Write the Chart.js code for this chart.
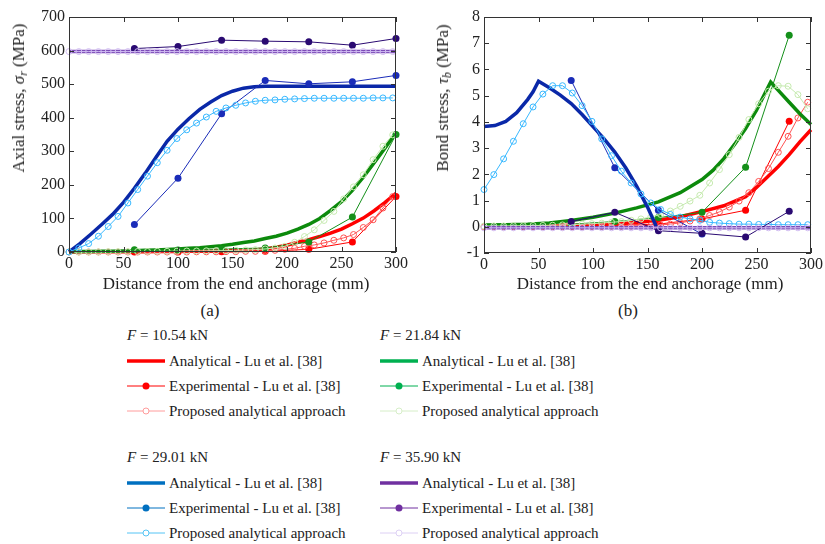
<!DOCTYPE html>
<html>
<head>
<meta charset="utf-8">
<script src="https://cdn.jsdelivr.net/npm/chart.js@4.4.1/dist/chart.umd.min.js"></script>
<style>
html,body{margin:0;padding:0;background:#fff;}
body{width:825px;height:544px;position:relative;overflow:hidden;font-family:'Liberation Serif','Times New Roman',serif;color:#222;}
.wrap{position:absolute;}
.ytitle{position:absolute;white-space:nowrap;font-size:17px;transform:translate(-50%,-50%) rotate(-90deg);}
.xtitle{position:absolute;white-space:nowrap;font-size:17px;transform:translate(-50%,-50%);}
.lg{position:absolute;white-space:nowrap;font-size:15px;line-height:18px;display:flex;align-items:center;}
.lg svg{margin-right:4px;}
sub{font-size:70%;vertical-align:-3px;}
</style>
</head>
<body>
<div class="wrap" style="left:0;top:0;width:410px;height:275px"><canvas id="axial" width="410" height="275"></canvas></div>
<div class="wrap" style="left:415px;top:0;width:410px;height:276px"><canvas id="bond" width="410" height="276"></canvas></div>

<div class="ytitle" style="left:20px;top:98px">Axial stress, <i>σ</i><sub><i>r</i></sub> (MPa)</div>
<div class="ytitle" style="left:444px;top:98px">Bond stress, <i>τ</i><sub><i>b</i></sub> (MPa)</div>
<div class="xtitle" style="left:236px;top:284px">Distance from the end anchorage (mm)</div>
<div class="xtitle" style="left:650px;top:284px">Distance from the end anchorage (mm)</div>
<div class="xtitle" style="left:210px;top:311px">(a)</div>
<div class="xtitle" style="left:628px;top:311px">(b)</div>
<div id="legend"></div>

<script>
// load cases and series names
const forces = ['10.54', '21.84', '29.01', '35.90'];
const seriesNames = ['Analytical - Lu et al. [38]', 'Experimental - Lu et al. [38]', 'Proposed analytical approach'];

// ---- (a) axial stress (MPa) ----
const anaX_a = [0,10,20,30,40,50,60,70,80,90,100,110,120,130,140,150,160,170,180,190,200,210,220,230,240,250,260,270,280,290,300];
const anaRed_a = [0.3,0.4,0.5,0.6,0.7,0.8,1,1.1,1.3,1.5,1.7,2,2.3,2.6,3,3.5,4.5,6,9,14,20,29,37,46,56,68,84,101,123,148,175];
const anaGreen_a = [1,1.2,1.5,2,2.5,3,4,5,6,7.5,9,11,13,16,19,23,28,33,40,47,56,68,82,100,124,150,184,223,266,310,355];
const anaBlue_a = [0,25,53,82,112,148,190,235,283,330,366,397,425,447,466,479,488,492,494,494,494,494,494,494,494,494,494,494,494,494,494];
const anaPurpleX_a = [0,300];
const anaPurple_a = [597,597];

const expX_a = [60,100,140,180,220,260,300];
const expRed_a = [0,0,1,2,8,30,165];
const expGreen_a = [7,6,9,12,30,104,350];
const expBlue_a = [82,220,412,511,501,507,526];
const expPurple_a = [606,612,631,628,626,616,636];

const propX = [0,9,18,27,36,45,54,63,72,81,90,99,108,117,126,135,144,153,162,171,180,189,198,207,216,225,234,243,252,261,270,279,288,297];
const propRed_a = [0,0,0,0,0,0,0,0,0,0,0,0,0,0.5,0.5,0.5,1,1,2,2,3,5,8,11,17,21,27,35,42,52,73,96,131,165];
const propGreen_a = [0,0,0.5,0.5,1,1,1,1.5,1.5,2,2,2.5,3,3,3.5,4,4,5,6,7,9,12,17,29,46,66,94,121,158,194,230,275,315,349];
const propBlue_a = [0,12,25,47,76,106,146,186,226,266,303,338,364,384,402,419,429,437,444,449,452,453,455,456,457,458,458,458,458,458,458,459,459,459];
const propPurple_a = [597,597,597,597,597,597,597,597,597,597,597,597,597,597,597,597,597,597,597,597,597,597,597,597,597,597,597,597,597,597,597,597,597,597];

// ---- (b) bond stress (MPa) ----
const anaRedX_b = [0,20,40,60,80,100,120,140,160,180,200,220,240,250,260,270,280,290,300];
const anaRed_b = [0.01,0.02,0.03,0.04,0.06,0.08,0.11,0.16,0.25,0.38,0.58,0.8,1.15,1.5,1.9,2.3,2.75,3.25,3.7];
const anaGreenX_b = [0,20,40,60,80,100,120,140,160,180,200,210,220,230,240,250,263,270,280,290,300];
const anaGreen_b = [0.07,0.08,0.1,0.14,0.24,0.36,0.52,0.72,0.95,1.3,1.8,2.15,2.6,3.15,3.75,4.45,5.52,5.2,4.75,4.3,3.9];
const anaBlueX_b = [0,10,20,30,40,45,50,60,70,80,90,100,110,120,130,140,150,158];
const anaBlue_b = [3.82,3.86,4.02,4.35,4.85,5.15,5.55,5.3,5.02,4.7,4.28,3.82,3.36,2.85,2.25,1.55,0.75,0.02];
const anaPurpleX_b = [0,300];
const anaPurple_b = [-0.04,-0.04];

const expX_b = [80,120,160,200,240,280];
const expRed_b = [0.02,0.05,0.1,0.3,0.63,4.02];
const expGreen_b = [0.1,0.2,0.35,0.55,2.27,7.3];
const expBlue_b = [5.58,2.25,0.63,-0.28,null,null];
const expPurple_b = [0.2,0.55,-0.15,-0.25,-0.39,0.59];

const propRed_b = [0,0,0,0,0,0,0,0,0,0,0,0.01,0.01,0.02,0.02,0.03,0.04,0.05,0.07,0.1,0.15,0.22,0.3,0.43,0.57,0.75,0.98,1.3,1.73,2.22,2.84,3.45,4.15,4.75];
const propGreen_b = [0.03,0.03,0.03,0.04,0.04,0.05,0.05,0.06,0.07,0.08,0.1,0.12,0.14,0.17,0.2,0.25,0.3,0.37,0.47,0.6,0.78,0.98,1.2,1.67,2.18,2.75,3.41,4.09,4.69,5.17,5.38,5.36,5.04,4.5];
const propBlue_b = [1.42,1.99,2.59,3.26,3.93,4.57,5.06,5.38,5.38,5.1,4.62,4.02,3.35,2.71,2.12,1.67,1.25,0.91,0.66,0.47,0.37,0.3,0.25,0.17,0.14,0.12,0.1,0.1,0.09,0.09,0.08,0.08,0.08,0.08];
const propPurple_b = [-0.04,-0.04,-0.04,-0.04,-0.04,-0.04,-0.04,-0.04,-0.04,-0.04,-0.04,-0.04,-0.04,-0.04,-0.04,-0.04,-0.04,-0.04,-0.04,-0.04,-0.04,-0.04,-0.04,-0.04,-0.04,-0.04,-0.04,-0.04,-0.04,-0.04,-0.04,-0.04,-0.04,-0.04];

// colours: plot and legend differ a bit in the original
const anaCol = ['#ff0000', '#0c8a0c', '#0a28a8', '#7c4cb8'];
const expCol = ['#ff0000', '#14901a', '#1a2cb8', '#2a0a72'];
const propCol = ['#ff5252', '#c6eab0', '#38b8ff', '#d2bdf2'];
const legAna = ['#ff0000', '#00b050', '#0070c0', '#7030a0'];
const legProp = ['#ff9c9c', '#d6eec8', '#55c4f5', '#ddd0f4'];

const font = {family: "'Liberation Serif', 'Times New Roman', serif", size: 16};

function pts(xs, ys){ return xs.map((x,i)=>({x, y: ys[i]})); }

// box with inward ticks on all four sides
const frame = {
  id: 'frame',
  afterDraw(chart){
    const {ctx, chartArea: a, scales: {x, y}} = chart;
    ctx.save();
    ctx.strokeStyle = '#333';
    ctx.lineWidth = 1;
    ctx.strokeRect(a.left + 0.5, a.top + 0.5, a.right - a.left - 1, a.bottom - a.top - 1);
    ctx.beginPath();
    x.ticks.forEach(t=>{
      const px = Math.round(x.getPixelForValue(t.value)) + 0.5;
      ctx.moveTo(px, a.bottom); ctx.lineTo(px, a.bottom - 5);
      ctx.moveTo(px, a.top); ctx.lineTo(px, a.top + 5);
    });
    y.ticks.forEach(t=>{
      const py = Math.round(y.getPixelForValue(t.value)) + 0.5;
      ctx.moveTo(a.left, py); ctx.lineTo(a.left + 5, py);
      ctx.moveTo(a.right, py); ctx.lineTo(a.right - 5, py);
    });
    ctx.stroke();
    ctx.restore();
  }
};

function makeSets(ana, exp, prop){
  const sets = [];
  for(let f=0; f<4; f++){
    sets.push({data: ana[f], borderColor: anaCol[f], borderWidth: 3.5, pointRadius: 0, tension: 0, clip: false});
    sets.push({data: exp[f], borderColor: expCol[f], backgroundColor: expCol[f], borderWidth: 1,
      pointRadius: 3.5, pointBackgroundColor: expCol[f], pointBorderWidth: 0, clip: false});
    sets.push({data: prop[f], borderColor: propCol[f], borderWidth: 1, pointRadius: 3,
      pointBackgroundColor: 'rgba(0,0,0,0)', pointBorderColor: propCol[f], pointBorderWidth: 1, clip: false});
  }
  // first dataset drawn at the bottom
  sets.forEach((s,i)=>{ s.order = 100 - i; s.showLine = true; s.fill = false; });
  return sets;
}

function makeChart(id, sets, ymin, ymax, step, padRight){
  return new Chart(document.getElementById(id), {
    type: 'line',
    data: {datasets: sets},
    options: {
      responsive: false,
      animation: false,
      layout: {padding: {top: 17, right: padRight, left: 0, bottom: 0}},
      plugins: {legend: {display: false}, tooltip: {enabled: false}},
      scales: {
        x: {type: 'linear', min: 0, max: 300,
          ticks: {stepSize: 50, font, color: '#222', padding: 2, maxRotation: 0},
          grid: {display: false, drawTicks: false}, border: {display: false},
          afterFit(s){ s.height = 23; }},
        y: {type: 'linear', min: ymin, max: ymax,
          ticks: {stepSize: step, font, color: '#222', padding: 4},
          grid: {display: false, drawTicks: false}, border: {display: false},
          afterFit(s){ s.width = 69; }}
      }
    },
    plugins: [frame]
  });
}

makeChart('axial', makeSets(
  [pts(anaX_a, anaRed_a), pts(anaX_a, anaGreen_a), pts(anaX_a, anaBlue_a), pts(anaPurpleX_a, anaPurple_a)],
  [pts(expX_a, expRed_a), pts(expX_a, expGreen_a), pts(expX_a, expBlue_a), pts(expX_a, expPurple_a)],
  [pts(propX, propRed_a), pts(propX, propGreen_a), pts(propX, propBlue_a), pts(propX, propPurple_a)]
), 0, 700, 100, 11);

makeChart('bond', makeSets(
  [pts(anaRedX_b, anaRed_b), pts(anaGreenX_b, anaGreen_b), pts(anaBlueX_b, anaBlue_b), pts(anaPurpleX_b, anaPurple_b)],
  [pts(expX_b, expRed_b), pts(expX_b, expGreen_b), pts(expX_b, expBlue_b), pts(expX_b, expPurple_b)],
  [pts(propX, propRed_b), pts(propX, propGreen_b), pts(propX, propBlue_b), pts(propX, propPurple_b)]
), -1, 8, 1, 12);

// legend
const legendX = [127, 380, 127, 380];
const legendY = [335, 335, 457, 457];
const rowDy = [26, 51, 76];
const legend = document.getElementById('legend');
function sym(k, f){
  if(k===0) return `<svg width="38" height="12"><line x1="0" y1="6" x2="38" y2="6" stroke="${legAna[f]}" stroke-width="3.5"/></svg>`;
  if(k===1) return `<svg width="38" height="12"><line x1="0" y1="6" x2="38" y2="6" stroke="${legAna[f]}" stroke-width="1"/><circle cx="19" cy="6" r="3.5" fill="${legAna[f]}"/></svg>`;
  return `<svg width="38" height="12"><line x1="0" y1="6" x2="38" y2="6" stroke="${legProp[f]}" stroke-width="1"/><circle cx="19" cy="6" r="3" fill="#fff" stroke="${legProp[f]}" stroke-width="1"/></svg>`;
}
forces.forEach((F,f)=>{
  const h = document.createElement('div');
  h.className = 'lg';
  h.style.left = legendX[f] + 'px';
  h.style.top = (legendY[f] - 9) + 'px';
  h.innerHTML = `<i>F</i>&nbsp;= ${F} kN`;
  legend.appendChild(h);
  seriesNames.forEach((name,k)=>{
    const r = document.createElement('div');
    r.className = 'lg';
    r.style.left = legendX[f] + 'px';
    r.style.top = (legendY[f] + rowDy[k] - 9) + 'px';
    r.innerHTML = sym(k, f) + name;
    legend.appendChild(r);
  });
});
</script>
</body>
</html>
